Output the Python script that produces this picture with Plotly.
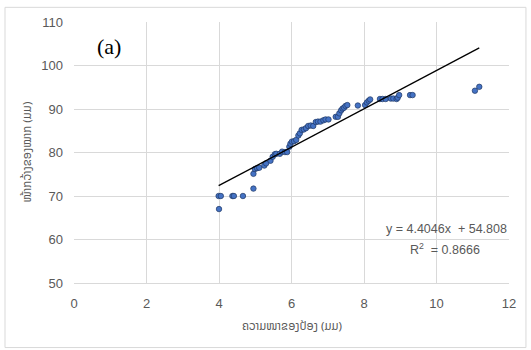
import plotly.graph_objects as go

# Data
x_vals = [4.00, 3.99, 4.05, 4.37, 4.41, 4.66, 4.95, 4.95, 4.99, 5.05, 5.11, 5.25, 5.30, 5.42,
          5.48, 5.54, 5.58, 5.68, 5.74, 5.82, 5.88, 5.94, 5.97, 6.01, 6.07, 6.13, 6.19, 6.23,
          6.28, 6.34, 6.40, 6.46, 6.53, 6.60, 6.67, 6.73, 6.80, 6.88, 6.94, 7.02, 7.22, 7.28,
          7.32, 7.37, 7.41, 7.45, 7.49, 7.54, 7.83, 8.03, 8.08, 8.13, 8.17, 8.44, 8.51, 8.60,
          8.74, 8.81, 8.90, 8.93, 8.97, 9.27, 9.34, 11.06, 11.18]
y_vals = [67.0, 70.0, 70.0, 70.0, 70.0, 70.0, 71.7, 75.1, 76.2, 76.4, 76.5, 77.0, 77.5, 78.1,
          79.0, 79.6, 79.7, 79.7, 80.2, 80.1, 80.1, 81.3, 82.0, 82.5, 82.6, 82.9, 83.9, 84.4,
          85.2, 85.3, 85.6, 86.1, 86.2, 86.1, 87.0, 87.1, 87.1, 87.4, 87.6, 87.6, 88.2, 88.2,
          89.0, 89.7, 90.1, 90.3, 90.7, 90.9, 90.8, 90.9, 91.5, 91.9, 92.2, 92.3, 92.3, 92.3,
          92.4, 92.4, 92.3, 92.6, 93.2, 93.2, 93.2, 94.2, 95.1]
slope = 4.4046
intercept = 54.808
r_squared = 0.8666
x_tick_vals = [0, 2, 4, 6, 8, 10, 12]
y_tick_vals = [50, 60, 70, 80, 90, 100, 110]
x_title = "ຄວາມໜາຂອງປ້ອງ (ມມ)"
y_title = "ໜ້າກວ້າງຂອງໝາກ (ມມ)"
panel_label = "(a)"

x_min, x_max = min(x_vals), max(x_vals)
trend_x = [x_min, x_max]
trend_y = [slope * v + intercept for v in trend_x]

fig = go.Figure()
fig.add_trace(go.Scatter(
    x=x_vals, y=y_vals, mode="markers",
    marker=dict(size=5.5, color="#4472C4", line=dict(color="#1F3864", width=0.7)),
    showlegend=False, hoverinfo="skip"))
fig.add_trace(go.Scatter(
    x=trend_x, y=trend_y, mode="lines",
    line=dict(color="black", width=1.3),
    showlegend=False, hoverinfo="skip"))

tick_font = dict(family="Liberation Sans, Arial, sans-serif", size=13, color="#595959")
fig.update_xaxes(range=[0, 12], tickvals=x_tick_vals, showgrid=True, gridcolor="#D9D9D9",
                 gridwidth=1, zeroline=False, showline=True, linecolor="#D9D9D9",
                 mirror=False, ticks="", tickfont=tick_font, ticklabelstandoff=8)
fig.update_yaxes(range=[50, 110], tickvals=y_tick_vals, showgrid=True, gridcolor="#D9D9D9",
                 gridwidth=1, zeroline=False, showline=False, ticks="",
                 tickfont=tick_font, ticklabelstandoff=10)

fig.update_layout(
    width=531, height=350,
    margin=dict(l=74, r=22, t=22, b=67),
    paper_bgcolor="white", plot_bgcolor="white",
    shapes=[dict(type="rect", xref="paper", yref="paper",
                 x0=-0.1586, x1=1.039, y0=-0.2473, y1=1.0562,
                 line=dict(color="#D9D9D9", width=1), fillcolor="rgba(0,0,0,0)", layer="below")],
    annotations=[
        dict(text=panel_label, xref="paper", yref="paper", x=0.048, y=0.905,
             xanchor="left", yanchor="middle", showarrow=False,
             font=dict(family="Liberation Serif, Times New Roman, serif", size=22, color="black")),
        dict(text=f"y = {slope}x  + {intercept}", xref="paper", yref="paper",
             x=0.999, y=(283.3 - 229) / 261.6, xanchor="right", yanchor="middle",
             showarrow=False, font=dict(family="Liberation Sans, Arial, sans-serif", size=12.5, color="#595959")),
        dict(text=f"R<sup>2</sup>  = {r_squared}", xref="paper", yref="paper",
             x=(445 - 74) / 435, y=(283.3 - 249) / 261.6, xanchor="center", yanchor="middle",
             showarrow=False, font=dict(family="Liberation Sans, Arial, sans-serif", size=12.5, color="#595959")),
        dict(text=x_title, xref="paper", yref="paper", x=0.5, y=(283.3 - 326) / 261.6,
             xanchor="center", yanchor="middle", showarrow=False,
             font=dict(family="Noto Sans Lao, Noto Sans, DejaVu Sans, sans-serif", size=11.5, color="#595959")),
        dict(text=y_title, xref="paper", yref="paper", x=(26 - 74) / 435, y=0.5,
             xanchor="center", yanchor="middle", showarrow=False, textangle=-90,
             font=dict(family="Noto Sans Lao, Noto Sans, DejaVu Sans, sans-serif", size=11.5, color="#595959")),
    ],
)

fig.write_html("out.html")
